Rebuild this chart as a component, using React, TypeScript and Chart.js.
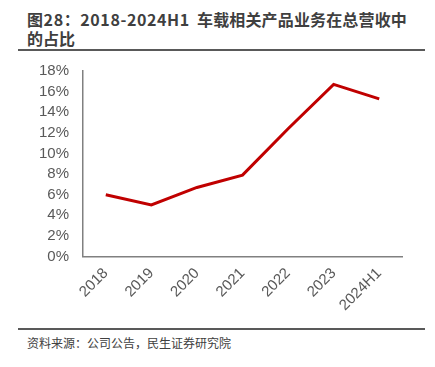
import React, { useEffect, useRef } from "react";
import { Chart, registerables } from "chart.js";

Chart.register(...registerables);

const categories = ["2018", "2019", "2020", "2021", "2022", "2023", "2024H1"];
const shareValues = [6.0, 5.0, 6.7, 7.9, 12.4, 16.7, 15.3];
const yTicks = [0, 2, 4, 6, 8, 10, 12, 14, 16, 18];

const titleHead = "图28：2018-2024H1";
const titleTail = "车载相关产品业务在总营收中";
const titleLine2 = "的占比";
const sourceText = "资料来源：公司公告，民生证券研究院";

export default function App() {
  const canvasRef = useRef<HTMLCanvasElement | null>(null);

  useEffect(() => {
    const canvas = canvasRef.current;
    if (!canvas) return;
    const chart = new Chart(canvas, {
      type: "line",
      data: {
        labels: categories,
        datasets: [
          {
            data: shareValues,
            borderColor: "#C00000",
            backgroundColor: "#C00000",
            borderWidth: 3,
            pointRadius: 0,
            pointHoverRadius: 0,
            tension: 0,
            fill: false,
          },
        ],
      },
      options: {
        animation: false,
        responsive: false,
        maintainAspectRatio: false,
        events: [],
        layout: { padding: { top: 11, left: 0, right: 33, bottom: 0 } },
        plugins: {
          legend: { display: false },
          tooltip: { enabled: false },
          title: { display: false },
        },
        scales: {
          x: {
            offset: true,
            grid: { display: false, drawTicks: false },
            border: { display: true, color: "#808080", width: 1.5 },
            ticks: {
              color: "#595959",
              font: { family: "'Liberation Sans', Arial, sans-serif", size: 15 },
              maxRotation: 45,
              minRotation: 45,
              padding: 8,
              autoSkip: false,
            },
            afterFit: (s: any) => {
              s.height = 68.5;
              s.paddingLeft = 0;
              s.paddingRight = 0;
            },
          },
          y: {
            min: yTicks[0],
            max: yTicks[yTicks.length - 1],
            grid: { display: false, drawTicks: false },
            border: { display: true, color: "#808080", width: 1.5 },
            afterBuildTicks: (s: any) => {
              s.ticks = yTicks.map((v) => ({ value: v }));
            },
            ticks: {
              color: "#595959",
              font: { family: "'Liberation Sans', Arial, sans-serif", size: 15 },
              padding: 14,
              autoSkip: false,
              callback: (v: any) => `${v}%`,
            },
            afterFit: (s: any) => {
              s.width = 83;
              s.paddingTop = 0;
              s.paddingBottom = 0;
            },
          },
        },
      },
    });
    return () => chart.destroy();
  }, []);

  const titleFont = {
    fontFamily: "'Noto Sans CJK SC', sans-serif",
    fontWeight: 700,
    fontSize: 16,
    lineHeight: "19px",
    color: "#3f3f3f",
    whiteSpace: "nowrap" as const,
    position: "absolute" as const,
  };

  return (
    <div
      style={{
        position: "absolute",
        left: 0,
        top: 0,
        width: 435,
        height: 367,
        background: "#ffffff",
        overflow: "hidden",
      }}
    >
      <div style={{ ...titleFont, left: 27, top: 10, letterSpacing: "0.6px" }}>{titleHead}</div>
      <div style={{ ...titleFont, left: 197, top: 10, letterSpacing: "0.15px" }}>{titleTail}</div>
      <div style={{ ...titleFont, left: 27, top: 29 }}>{titleLine2}</div>
      <div
        style={{
          position: "absolute",
          left: 18,
          top: 49,
          width: 407,
          height: 2,
          background: "#595959",
        }}
      />
      <canvas
        ref={canvasRef}
        width={435}
        height={265}
        style={{ position: "absolute", left: 0, top: 60, width: 435, height: 265 }}
      />
      <div
        style={{
          position: "absolute",
          left: 18,
          top: 328,
          width: 407,
          height: 2,
          background: "#595959",
        }}
      />
      <div
        style={{
          position: "absolute",
          left: 27,
          top: 335,
          fontFamily: "'Noto Sans CJK SC', sans-serif",
          fontSize: 12,
          lineHeight: "16px",
          color: "#404040",
          whiteSpace: "nowrap",
        }}
      >
        {sourceText}
      </div>
    </div>
  );
}
